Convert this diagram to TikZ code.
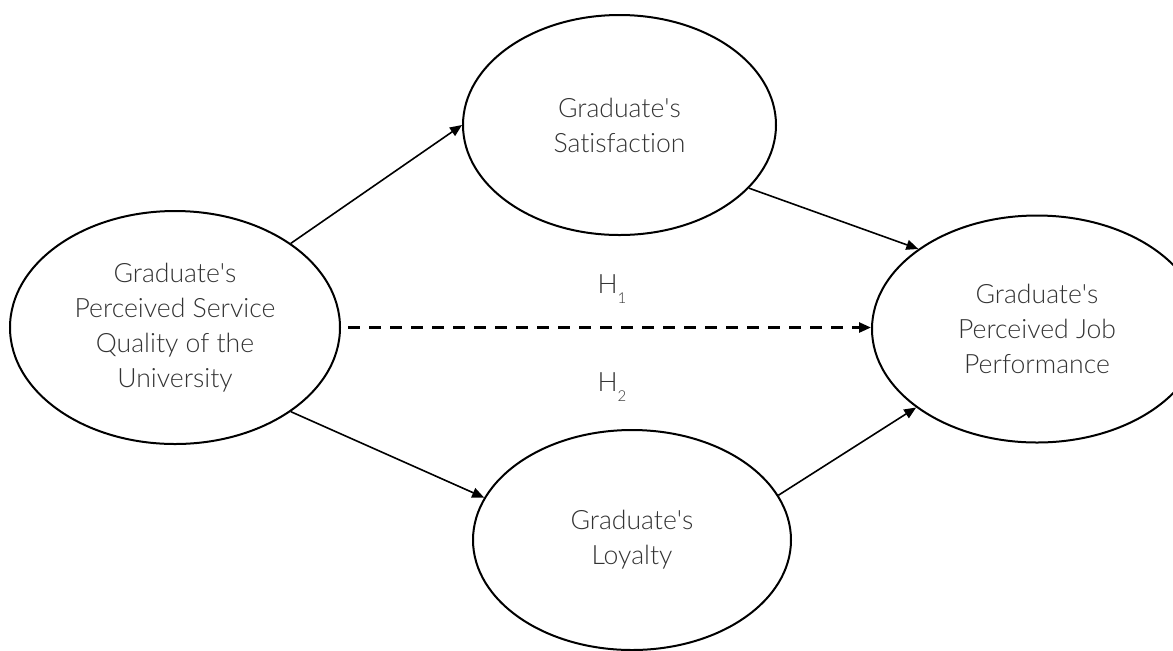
\documentclass[tikz,border=0pt]{standalone}
\usepackage{fontspec}
\setmainfont{Lato}[UprightFont={* Light}, Ligatures={NoCommon}]
\usetikzlibrary{shapes.geometric,arrows.meta}
\definecolor{txt}{HTML}{333333}
\newcommand{\apos}{\textquotesingle}
\tikzset{
  construct/.style={draw=black, line width=1pt, ellipse, inner sep=0pt, align=center,
    font=\fontsize{13.3}{17.5}\selectfont, text=txt},
  link/.style={line width=0.8pt, -{Triangle[length=6pt,width=5pt]}},
  hyp/.style={line width=1.3pt, dash pattern=on 6pt off 4.5pt, -{Triangle[length=6pt,width=5pt]}},
  hlabel/.style={font=\fontsize{13.3}{15}\selectfont, text=txt}
}
\begin{document}
\begin{tikzpicture}[x=0.5pt,y=-0.5pt]
\useasboundingbox (0,0) rectangle (1173,650);
\clip (0,0) rectangle (1173,650);
\node[construct, minimum width=165pt, minimum height=116.5pt] (L) at (175,327.5)
  {Graduate\apos s\\Perceived Service\\Quality of the\\University};
\node[construct, minimum width=156.5pt, minimum height=110pt] (T) at (619.5,125)
  {Graduate\apos s\\Satisfaction};
\node[construct, minimum width=159pt, minimum height=110pt] (B) at (632,540)
  {Graduate\apos s\\Loyalty};
\node[construct, minimum width=165pt, minimum height=113.5pt] (R) at (1037,329)
  {Graduate\apos s\\Perceived Job\\Performance};
\draw[link] (L.36) -- (T.180);
\draw[link] (T.-26) -- (R.146);
\draw[link] (L.-36) -- (B.164);
\draw[link] (B.17) -- (R.213);
\draw[hyp] ([xshift=3.5pt]L.east) -- (L.east -| R.west);
\node[hlabel] (H1) at (612,289) {H\raisebox{-0.7ex}{\fontsize{7.5}{8}\selectfont 1}};
\node[hlabel] (H2) at (612,387) {H\raisebox{-0.7ex}{\fontsize{7.5}{8}\selectfont 2}};
\end{tikzpicture}
\end{document}
